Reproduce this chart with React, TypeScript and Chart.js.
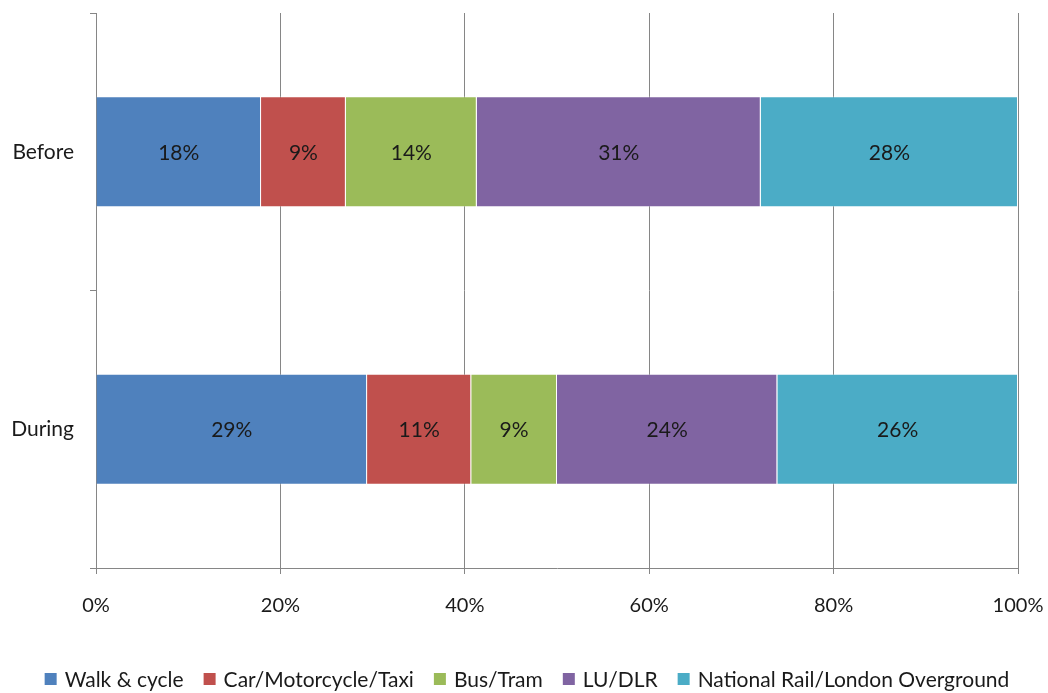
import React, { useEffect, useRef } from "react";
import { Chart, registerables } from "chart.js";

Chart.register(...registerables);

const periods = ["Before", "During"];
const modes = [
  "Walk & cycle",
  "Car/Motorcycle/Taxi",
  "Bus/Tram",
  "LU/DLR",
  "National Rail/London Overground",
];
const walkCycle = [17.9, 29.4];
const carTaxi = [9.2, 11.3];
const busTram = [14.2, 9.3];
const luDlr = [30.8, 23.9];
const nationalRail = [27.9, 26.1];
const modeColors = ["#4F81BD", "#C0504D", "#9BBB59", "#8064A2", "#4BACC6"];
const xTicks = [0, 20, 40, 60, 80, 100];

const FONT = "Lato, 'Open Sans', sans-serif";
const TEXT = "#1a1a1a";
const AXIS = "#868686";

// Percentage text in the middle of each stacked segment
const segmentLabels = {
  id: "segmentLabels",
  afterDatasetsDraw(chart: any) {
    const ctx = chart.ctx;
    ctx.save();
    ctx.font = `21px ${FONT}`;
    ctx.fillStyle = TEXT;
    ctx.textAlign = "center";
    ctx.textBaseline = "middle";
    chart.data.datasets.forEach((ds: any, i: number) => {
      const meta = chart.getDatasetMeta(i);
      meta.data.forEach((bar: any, j: number) => {
        const v = ds.data[j];
        const left = Math.min(bar.x, bar.base);
        const right = Math.max(bar.x, bar.base);
        ctx.fillText(`${Math.round(v)}%`, (left + right) / 2, bar.y + 1);
      });
    });
    ctx.restore();
  },
};

// Single-row legend centred along the bottom edge
const bottomLegend = {
  id: "bottomLegend",
  afterDraw(chart: any) {
    const ctx = chart.ctx;
    const box = 12;
    const textGap = 8;
    const itemGap = 20;
    const cy = chart.height - 14;
    ctx.save();
    ctx.font = `21px ${FONT}`;
    ctx.textBaseline = "middle";
    ctx.textAlign = "left";
    const items = chart.data.datasets.map((ds: any) => ({
      label: ds.label,
      color: ds.backgroundColor,
      w: box + textGap + ctx.measureText(ds.label).width,
    }));
    const total = items.reduce((s: number, it: any) => s + it.w, 0) + itemGap * (items.length - 1);
    let x = (chart.width - total) / 2 + 3;
    items.forEach((it: any) => {
      ctx.fillStyle = it.color;
      ctx.fillRect(x, cy - box / 2, box, box);
      ctx.fillStyle = TEXT;
      ctx.fillText(it.label, x + box + textGap, cy + 1);
      x += it.w + itemGap;
    });
    ctx.restore();
  },
};

export default function App() {
  const canvasRef = useRef<HTMLCanvasElement | null>(null);

  useEffect(() => {
    if (!canvasRef.current) return;
    const series = [walkCycle, carTaxi, busTram, luDlr, nationalRail];
    const chart = new Chart(canvasRef.current, {
      type: "bar",
      data: {
        labels: periods,
        datasets: modes.map((name, i) => ({
          label: name,
          data: series[i],
          backgroundColor: modeColors[i],
          borderColor: "rgba(255,255,255,0.35)",
          borderWidth: 1,
          barPercentage: 0.4,
          categoryPercentage: 1,
        })),
      },
      options: {
        indexAxis: "y",
        animation: false,
        responsive: false,
        layout: { padding: { top: 13, right: 30, left: 0, bottom: 44 } },
        scales: {
          x: {
            stacked: true,
            min: 0,
            max: 100,
            afterBuildTicks: (scale: any) => {
              scale.ticks = xTicks.map((v) => ({ value: v }));
            },
            afterFit: (scale: any) => {
              scale.height = 81;
              scale.paddingLeft = 0;
              scale.paddingRight = 0;
            },
            ticks: {
              callback: (v: any) => `${v}%`,
              font: { family: FONT, size: 20 },
              color: TEXT,
              padding: 20,
              maxRotation: 0,
            },
            grid: { color: AXIS, tickLength: 6, lineWidth: 1 },
            border: { color: AXIS },
          },
          y: {
            stacked: true,
            afterFit: (scale: any) => {
              scale.width = 96;
              scale.paddingTop = 0;
              scale.paddingBottom = 0;
            },
            ticks: {
              font: { family: FONT, size: 21 },
              color: TEXT,
              padding: 16,
            },
            grid: {
              offset: true,
              drawOnChartArea: false,
              color: AXIS,
              tickLength: 6,
            },
            border: { color: AXIS },
          },
        },
        plugins: {
          legend: { display: false },
          tooltip: { enabled: false },
        },
      },
      plugins: [segmentLabels, bottomLegend],
    });
    return () => chart.destroy();
  }, []);

  return (
    <div style={{ position: "fixed", left: 0, top: 0, width: 1048, height: 693, background: "#fff" }}>
      <canvas ref={canvasRef} width={1048} height={693} />
    </div>
  );
}
